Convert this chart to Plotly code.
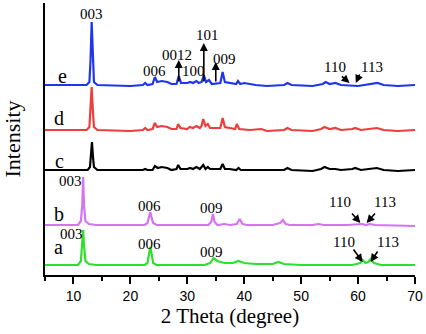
import plotly.graph_objects as go

# ---- data (2 theta, stacked intensity in arbitrary units) ----
e_x = [5, 12.3, 12.8, 13.0, 13.2, 13.4, 13.6, 14.2, 20, 22.2, 22.6, 23.0, 23.9, 24.3, 24.7, 25.5, 26.5, 27.2,
       28.1, 28.5, 28.9, 30.0, 30.5, 31.0, 31.6, 32.0, 32.5, 32.9, 33.3, 33.8, 34.3, 35.8, 36.2, 36.6, 37.4,
       38.6, 38.9, 39.3, 40.0, 40.8, 42, 44, 47, 47.6, 48.3, 52, 53.8, 54.3, 55, 56, 57, 60, 61.5, 63.4, 64.5, 67, 70]
e_y = [190, 190, 193, 215, 253, 215, 193, 190, 189, 190, 192, 190, 191, 198, 193, 194, 193, 191,
       191, 199, 192, 192, 193, 192, 194, 192, 193, 200, 193, 195, 191, 192, 203, 193, 192,
       191, 194, 191, 192, 191, 190, 189, 190, 192, 190, 189, 191, 193, 191, 192, 190, 189, 190, 192, 190, 189, 190]

d_x = [5, 12.3, 12.8, 13.0, 13.2, 13.4, 13.6, 14.2, 20, 22.2, 22.6, 23.0, 23.9, 24.3, 24.7, 25.5, 26.5, 27.2,
       28.1, 28.4, 28.8, 30.0, 30.4, 31.0, 31.6, 32.2, 32.5, 32.8, 33.2, 33.6, 34.0, 35.8, 36.2, 36.6, 37.4,
       38.4, 38.7, 39.1, 41, 43, 44, 47, 47.6, 48.3, 52, 53.5, 54.1, 55, 56, 57, 59, 59.5, 60.5, 62.5, 63.3,
       64.5, 67, 70]
d_y = [145, 145, 148, 165, 188, 165, 148, 145, 144, 145, 147, 145, 146, 152, 148, 149, 148, 146,
       146, 151, 147, 146, 148, 147, 149, 147, 149, 156, 149, 151, 147, 147, 157, 148, 147,
       146, 151, 146, 145, 146, 144, 145, 147, 145, 144, 146, 148, 146, 147, 145, 146, 147, 145, 146, 147,
       145, 144, 145]

c_x = [5, 12.5, 12.9, 13.1, 13.25, 13.4, 13.6, 14.2, 20, 22.2, 22.6, 23.0, 23.9, 24.3, 24.8, 25.5, 26.5, 27.2,
       28.1, 28.4, 28.8, 30.0, 30.5, 31.0, 31.6, 32.2, 32.8, 33.2, 33.6, 34.0, 35.8, 36.2, 36.6, 37.4,
       38.6, 39.0, 39.4, 43, 47, 47.6, 48.3, 52, 53.5, 54.1, 55, 56, 57, 59, 59.5, 60.5, 62.5, 63.3, 64.5, 67, 70]
c_y = [105, 105, 108, 120, 133, 120, 108, 105, 105, 105, 106, 105, 105, 109, 107, 108, 107, 105,
       106, 110, 106, 106, 107, 106, 108, 106, 110, 106, 108, 106, 106, 111, 106, 106,
       105, 107, 105, 105, 105, 107, 105, 104, 106, 108, 106, 106, 105, 106, 107, 105, 106, 107, 105, 104, 105]

b_x = [5, 10.8, 11.3, 11.55, 11.7, 11.85, 12.1, 12.7, 14, 22.5, 23.0, 23.3, 23.5, 23.7, 24.0, 24.6, 33.7, 34.2,
       34.5, 34.8, 35.3, 36.5, 37.5, 38.7, 39.2, 39.7, 40.5, 45, 46.3, 46.8, 47.3, 48, 52, 53, 54, 58, 60.8,
       61.3, 62.1, 63, 70]
b_y = [50, 50, 54, 70, 98, 70, 54, 51, 50, 50, 52, 58, 63, 58, 52, 50, 50, 53,
       61, 53, 50, 51, 50, 51, 56, 51, 50, 50, 52, 55, 51, 50, 50, 51, 50, 50, 51,
       50, 51, 50, 49]

a_x = [5, 10.8, 11.3, 11.55, 11.7, 11.85, 12.1, 12.7, 14, 22.5, 23.0, 23.3, 23.5, 23.7, 24.0, 24.6, 33, 34.0,
       34.6, 35.3, 36.5, 38, 39, 40, 42, 45, 46, 47, 50, 55, 59, 60.4, 60.8, 61.3, 61.8, 62.2, 62.8, 64, 70]
a_y = [10, 10, 14, 30, 45, 30, 14, 11, 10, 10, 12, 22, 28, 22, 12, 10, 10, 12,
       17, 14, 12, 12, 14, 12, 11, 11, 13, 11, 10, 10, 10, 12, 15, 12, 13, 16, 12, 10, 10]

series_names = ["e", "d", "c", "b", "a"]
series_colors = ["#1f35ee", "#ee3d3d", "#000000", "#d474f2", "#2ee02e"]

x_ticks = [10, 20, 30, 40, 50, 60, 70]
x_tick_labels = ["10", "20", "30", "40", "50", "60", "70"]

# peak labels: (text, 2theta, intensity)
peak_labels = [
    ("003", 13.25, 261), ("006", 24.3, 204), ("0012", 28.2, 220), ("100", 31.1, 204),
    ("101", 33.6, 240), ("009", 36.6, 216), ("110", 55.9, 208), ("113", 62.4, 208),
    ("003", 9.4, 94), ("006", 23.4, 69), ("009", 34.3, 67), ("110", 56.8, 73), ("113", 64.8, 73),
    ("003", 9.6, 41), ("006", 23.4, 31), ("009", 34.3, 23), ("110", 57.5, 33), ("113", 65.2, 33),
]
# arrows: (head x, head y, tail x, tail y)
arrows = [
    (28.5, 215, 28.5, 192), (32.9, 232, 32.9, 192), (35.0, 213, 35.0, 192),
    (58.5, 192, 56.9, 200), (59.6, 192, 60.4, 202),
    (60.4, 52, 58.7, 63), (61.5, 52, 63.2, 63),
    (60.8, 13, 59.0, 27), (62.2, 13, 63.6, 25),
]
curve_letters = [("e", 8.0, 199), ("d", 7.5, 157), ("c", 7.5, 114), ("b", 7.5, 61), ("a", 7.4, 28)]

xs = [e_x, d_x, c_x, b_x, a_x]
ys = [e_y, d_y, c_y, b_y, a_y]

fig = go.Figure()
for name, col, x, y in zip(series_names, series_colors, xs, ys):
    fig.add_trace(go.Scatter(x=x, y=y, mode="lines", name=name,
                             line=dict(color=col, width=2.2), showlegend=False))

annotations = []
for txt, x, y in peak_labels:
    annotations.append(dict(x=x, y=y, xref="x", yref="y", text=txt, showarrow=False,
                            font=dict(family="Liberation Serif", size=15, color="black")))
for hx, hy, tx, ty in arrows:
    annotations.append(dict(x=hx, y=hy, xref="x", yref="y", ax=tx, ay=ty, axref="x", ayref="y",
                            text="", showarrow=True, arrowhead=2, arrowsize=1, arrowwidth=1.6,
                            arrowcolor="black", standoff=0, startstandoff=0))
for txt, x, y in curve_letters:
    annotations.append(dict(x=x, y=y, xref="x", yref="y", text=txt, showarrow=False,
                            font=dict(family="Liberation Serif", size=20, color="black")))

fig.update_layout(
    width=426, height=334,
    margin=dict(l=45, r=11, t=3, b=59),
    paper_bgcolor="white", plot_bgcolor="white",
    annotations=annotations,
    xaxis=dict(range=[5, 70], tickmode="array", tickvals=x_ticks, ticktext=x_tick_labels,
               ticks="outside", ticklen=7, tickwidth=2, tickcolor="black", automargin=False,
               minor=dict(dtick=5, tick0=5, ticks="outside", ticklen=4, tickwidth=2, tickcolor="black"),
               showline=True, linecolor="black", linewidth=2, showgrid=False, zeroline=False,
               tickfont=dict(family="Liberation Sans", size=14, color="black"),
               title=dict(text="2 Theta (degree)", standoff=4,
                          font=dict(family="Liberation Serif", size=21, color="black"))),
    yaxis=dict(range=[0, 272], showticklabels=False, ticks="", showline=True, linecolor="black",
               linewidth=2, showgrid=False, zeroline=False, automargin=False,
               title=dict(text="Intensity", standoff=18,
                          font=dict(family="Liberation Serif", size=22, color="black"))),
)

fig.write_html("out.html", config={"displayModeBar": False},
               post_script="document.body.style.margin='0';document.body.style.padding='0';")
